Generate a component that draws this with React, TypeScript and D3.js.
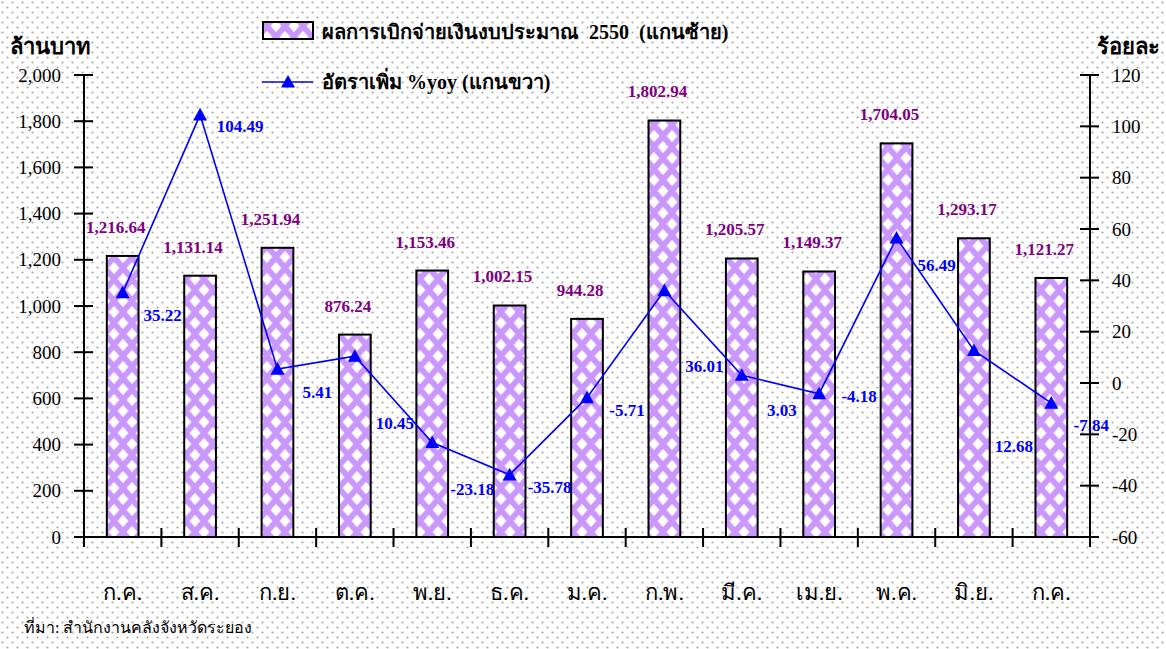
import React from "react";
import * as d3 from "d3";

const months = ["ก.ค.", "ส.ค.", "ก.ย.", "ต.ค.", "พ.ย.", "ธ.ค.", "ม.ค.", "ก.พ.", "มี.ค.", "เม.ย.", "พ.ค.", "มิ.ย.", "ก.ค."];
const spending = [1216.64, 1131.14, 1251.94, 876.24, 1153.46, 1002.15, 944.28, 1802.94, 1205.57, 1149.37, 1704.05, 1293.17, 1121.27];
const yoy = [35.22, 104.49, 5.41, 10.45, -23.18, -35.78, -5.71, 36.01, 3.03, -4.18, 56.49, 12.68, -7.84];
const leftTicks = [0, 200, 400, 600, 800, 1000, 1200, 1400, 1600, 1800, 2000];
const rightTicks = [-60, -40, -20, 0, 20, 40, 60, 80, 100, 120];
// label layout nudges (pixels below the point) for the yoy labels
const yoyLabelDy = [22, 11, 23, 67, 47, 12, 12, 75, 35, 2, 27, 96, 22];

const W = 1166;
const H = 649;
const FONT = "'Liberation Serif', 'Times New Roman', serif";

export default function App() {
  const left = 84, right = 1090, top = 75, bottom = 537;
  const idx = months.map((_, i) => String(i));
  const x = d3.scaleBand<string>().domain(idx).range([left, right]).padding(0);
  const yL = d3.scaleLinear().domain([0, 2000]).range([bottom, top]);
  const yR = d3.scaleLinear().domain([-60, 120]).range([bottom, top]);
  const bw = x.bandwidth() * 0.41;
  const cx = (i: number) => (x(String(i)) as number) + x.bandwidth() / 2;
  const line = d3.line<number>().x((_, i) => cx(i)).y((d) => yR(d));
  const fmt = d3.format(",.2f");
  const tri = (px: number, py: number, s = 7) => `M${px},${py - s}L${px + s},${py + s * 0.8}L${px - s},${py + s * 0.8}Z`;
  const PW = 18, PH = 22, rw = 5.2, rh = 5.8;
  const dia = (a: number, b: number) => `M${a},${b - rh}L${a + rw},${b}L${a},${b + rh}L${a - rw},${b}Z`;
  const diamondPath = [dia(PW / 2, PH / 2), dia(0, 0), dia(PW, 0), dia(0, PH), dia(PW, PH)].join(" ");

  return (
    <svg width={W} height={H} style={{ position: "absolute", left: 0, top: 0 }} fontFamily={FONT}>
      <defs>
        <pattern id="dots" width={10} height={10} patternUnits="userSpaceOnUse">
          <rect width={10} height={10} fill="#ffffff" />
          <circle cx={2.5} cy={2.5} r={1.1} fill="#a8a8a8" />
          <circle cx={7.5} cy={7.5} r={1.1} fill="#a8a8a8" />
        </pattern>
        <pattern id="diam" width={PW} height={PH} patternUnits="userSpaceOnUse" x={6} y={4}>
          <rect width={PW} height={PH} fill="#ca98fc" />
          <path d={diamondPath} fill="#ffffff" stroke="#f2e6ff" strokeWidth={1} strokeLinejoin="round" />
        </pattern>
      </defs>
      <rect width={W} height={H} fill="url(#dots)" />

      {/* bars */}
      {spending.map((v, i) => (
        <rect key={"b" + i} x={cx(i) - bw / 2} y={yL(v)} width={bw} height={yL(0) - yL(v)}
          fill="url(#diam)" stroke="#000" strokeWidth={2} />
      ))}

      {/* left axis */}
      <line x1={left} x2={left} y1={top} y2={bottom} stroke="#000" strokeWidth={2} />
      {leftTicks.map((t) => (
        <g key={"l" + t}>
          <line x1={left - 10} x2={left + 9} y1={yL(t)} y2={yL(t)} stroke="#000" strokeWidth={2} />
          <text x={61} y={yL(t)} dy="0.35em" textAnchor="end" fontSize={19}>{d3.format(",")(t)}</text>
        </g>
      ))}
      {/* right axis */}
      <line x1={right} x2={right} y1={top} y2={bottom} stroke="#000" strokeWidth={2} />
      {rightTicks.map((t) => (
        <g key={"r" + t}>
          <line x1={right - 10} x2={right + 9} y1={yR(t)} y2={yR(t)} stroke="#000" strokeWidth={2} />
          <text x={1112} y={yR(t)} dy="0.35em" textAnchor="start" fontSize={19}>{t}</text>
        </g>
      ))}
      {/* x axis */}
      <line x1={left} x2={right} y1={bottom} y2={bottom} stroke="#000" strokeWidth={2} />
      {idx.slice(1).map((k) => (
        <line key={"xt" + k} x1={x(k) as number} x2={x(k) as number} y1={bottom - 9} y2={bottom + 10} stroke="#000" strokeWidth={2} />
      ))}
      <line x1={left} x2={left} y1={bottom} y2={bottom + 10} stroke="#000" strokeWidth={2} />
      <line x1={right} x2={right} y1={bottom} y2={bottom + 10} stroke="#000" strokeWidth={2} />
      {months.map((m, i) => (
        <text key={"m" + i} x={cx(i)} y={592} dy="0.35em" textAnchor="middle" fontSize={22}>{m}</text>
      ))}

      {/* line series */}
      <path d={line(yoy) || ""} fill="none" stroke="#0000ff" strokeWidth={1.6} />
      {yoy.map((v, i) => (
        <path key={"t" + i} d={tri(cx(i), yR(v))} fill="#0000ff" />
      ))}

      {/* bar labels */}
      {spending.map((v, i) => (
        <text key={"bl" + i} x={cx(i) - 7} y={yL(v) - 29} dy="0.35em" textAnchor="middle"
          fontSize={17} fontWeight="bold" fill="#800080">{fmt(v)}</text>
      ))}
      {/* yoy labels */}
      {yoy.map((v, i) => (
        <text key={"yl" + i} x={cx(i) + 40} y={yR(v) + yoyLabelDy[i]} dy="0.35em" textAnchor="middle"
          fontSize={17} fontWeight="bold" fill="#0000ff">{v.toFixed(2)}</text>
      ))}

      {/* axis titles */}
      <text x={10} y={46} dy="0.35em" fontSize={22} fontWeight="bold">ล้านบาท</text>
      <text x={1160} y={46} dy="0.35em" textAnchor="end" fontSize={22} fontWeight="bold">ร้อยละ</text>

      {/* legend */}
      <rect x={263} y={22} width={50} height={17} fill="url(#diam)" stroke="#000" strokeWidth={2} />
      <text x={322} y={32} dy="0.35em" fontSize={20} fontWeight="bold" style={{ whiteSpace: "pre" }}>ผลการเบิกจ่ายเงินงบประมาณ  2550  (แกนซ้าย)</text>
      <line x1={262} x2={313} y1={82} y2={82} stroke="#0000ff" strokeWidth={1.6} />
      <path d={tri(288, 82)} fill="#0000ff" />
      <text x={322} y={82} dy="0.35em" fontSize={20} fontWeight="bold">อัตราเพิ่ม %yoy (แกนขวา)</text>

      {/* source */}
      <text x={24} y={627} dy="0.35em" fontSize={16}>ที่มา: สำนักงานคลังจังหวัดระยอง</text>
    </svg>
  );
}
